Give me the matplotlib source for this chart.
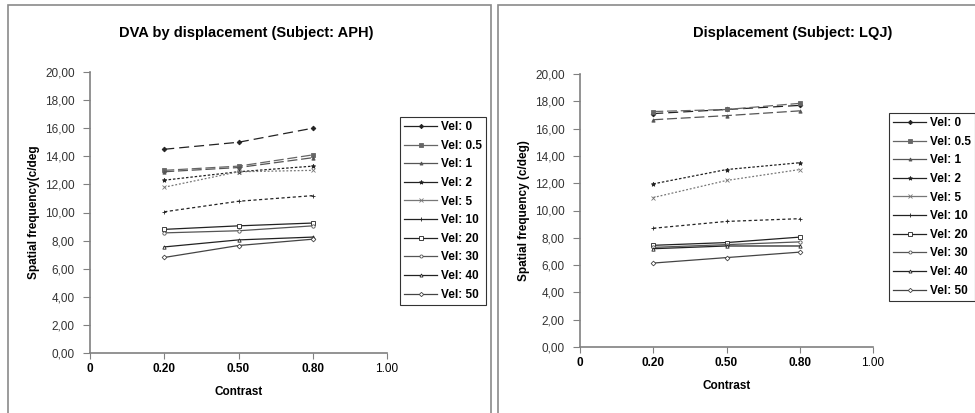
import numpy as np
import matplotlib
matplotlib.use('Agg')
import matplotlib.pyplot as plt
from matplotlib.lines import Line2D
from matplotlib.patches import Rectangle

plt.rcParams['font.family'] = ['Liberation Sans', 'DejaVu Sans']

###DATA###
categories = ['0', '0.20', '0.50', '0.80', '1.00']
contrast = ['0.20', '0.50', '0.80']
vel_labels = ['Vel: 0', 'Vel: 0.5', 'Vel: 1', 'Vel: 2', 'Vel: 5',
              'Vel: 10', 'Vel: 20', 'Vel: 30', 'Vel: 40', 'Vel: 50']

# subject APH
aph_vel0 = [14.5, 15.0, 16.0]
aph_vel05 = [13.0, 13.3, 14.1]
aph_vel1 = [12.9, 13.2, 13.9]
aph_vel2 = [12.3, 12.9, 13.3]
aph_vel5 = [11.8, 12.9, 13.0]
aph_vel10 = [10.05, 10.8, 11.2]
aph_vel20 = [8.8, 9.05, 9.25]
aph_vel30 = [8.55, 8.7, 9.05]
aph_vel40 = [7.55, 8.05, 8.25]
aph_vel50 = [6.8, 7.65, 8.1]

# subject LQJ
lqj_vel0 = [17.1, 17.4, 17.7]
lqj_vel05 = [17.25, 17.4, 17.85]
lqj_vel1 = [16.65, 16.95, 17.3]
lqj_vel2 = [11.95, 13.0, 13.5]
lqj_vel5 = [10.95, 12.2, 13.0]
lqj_vel10 = [8.7, 9.2, 9.4]
lqj_vel20 = [7.45, 7.65, 8.05]
lqj_vel30 = [7.3, 7.5, 7.7]
lqj_vel40 = [7.2, 7.4, 7.4]
lqj_vel50 = [6.15, 6.55, 6.95]

aph_series = [aph_vel0, aph_vel05, aph_vel1, aph_vel2, aph_vel5,
              aph_vel10, aph_vel20, aph_vel30, aph_vel40, aph_vel50]
lqj_series = [lqj_vel0, lqj_vel05, lqj_vel1, lqj_vel2, lqj_vel5,
              lqj_vel10, lqj_vel20, lqj_vel30, lqj_vel40, lqj_vel50]

###STYLE### (marker, fill, line colour, dashes)
styles = [
    ('D', 'k', '#222222', (8, 4)),
    ('s', 'k', '#666666', (8, 3)),
    ('^', 'k', '#555555', (8, 3)),
    ('*', 'k', '#222222', (2, 1.5)),
    ('x', 'w', '#777777', (1.5, 1.5)),
    ('+', 'k', '#222222', (2.5, 2)),
    ('s', 'w', '#222222', None),
    ('o', 'w', '#555555', None),
    ('^', 'w', '#222222', None),
    ('D', 'w', '#444444', None),
]

fig = plt.figure(figsize=(9.75, 4.13), dpi=100)

# panel frames
fig.patches.append(Rectangle((8 / 975, -0.05), 483 / 975, 1.05 - 5 / 413,
                             transform=fig.transFigure, fill=False,
                             ec='#8a8a8a', lw=1.2))
fig.patches.append(Rectangle((498 / 975, -0.05), 500 / 975, 1.05 - 5 / 413,
                             transform=fig.transFigure, fill=False,
                             ec='#8a8a8a', lw=1.2))

x_pos = [categories.index(c) for c in contrast]


def draw_panel(rect, series, title, ylabel, title_x, ylab_x, leg_xy):
    ax = fig.add_axes(rect)
    for vals, (mk, fc, col, dash) in zip(series, styles):
        ln, = ax.plot(x_pos, vals, color=col, lw=0.9, marker=mk,
                      markersize=3.2 if mk in ('*', 'x', '+') else 2.4,
                      markerfacecolor=fc if fc == 'w' else col,
                      markeredgecolor=col, markeredgewidth=0.6)
        if dash is not None:
            ln.set_dashes(dash)
    ax.set_xlim(0, 4)
    ax.set_ylim(0, 20)
    ax.set_yticks(np.arange(0, 21, 2))
    ax.set_yticklabels([('%.2f' % v).replace('.', ',') for v in np.arange(0, 21, 2)])
    ax.set_xticks(range(len(categories)))
    ax.set_xticklabels(categories)
    for i, t in enumerate(ax.get_xticklabels()):
        t.set_fontweight('bold' if i < 4 else 'normal')
    for s in ('top', 'right'):
        ax.spines[s].set_visible(False)
    for s in ('left', 'bottom'):
        ax.spines[s].set_color('#808080')
        ax.spines[s].set_linewidth(1.2)
    ax.tick_params(axis='y', length=5, color='#808080', labelsize=8.5,
                   labelcolor='#333333', pad=6)
    ax.tick_params(axis='x', length=4, color='#808080', labelsize=8.5, pad=3)
    ax.set_xlabel('Contrast', fontsize=8.5, fontweight='bold', labelpad=8)
    fig.text(title_x, 1 - 33 / 413, title, ha='center', va='center',
             fontsize=10.5, fontweight='bold')
    fig.text(ylab_x, rect[1] + rect[3] / 2, ylabel, rotation=90,
             ha='center', va='center', fontsize=8.5, fontweight='bold')

    handles = []
    for mk, fc, col, dash in styles:
        handles.append(Line2D([], [], color=col, lw=0.9, marker=mk,
                              markersize=3 if mk in ('*', 'x', '+') else 2.2,
                              markerfacecolor=fc if fc == 'w' else col,
                              markeredgecolor=col, markeredgewidth=0.6))
    leg = fig.legend(handles, vel_labels, loc='upper left',
                     bbox_to_anchor=leg_xy, bbox_transform=fig.transFigure,
                     fontsize=8.5, frameon=True, fancybox=False,
                     handlelength=2.8, handletextpad=0.3, labelspacing=0.56,
                     borderpad=0.35, borderaxespad=0)
    leg.get_frame().set_edgecolor('black')
    leg.get_frame().set_linewidth(0.8)
    for t in leg.get_texts():
        t.set_fontweight('bold')
    return ax


draw_panel([90 / 975, 1 - 353 / 413, 297 / 975, 281 / 413], aph_series,
           'DVA by displacement (Subject: APH)', 'Spatial frequency(c/deg',
           246 / 975, 34 / 975, (400 / 975, 1 - 117 / 413))
draw_panel([580 / 975, 1 - 347 / 413, 293 / 975, 273 / 413], lqj_series,
           'Displacement (Subject: LQJ)', 'Spatial frequency (c/deg)',
           793 / 975, 524 / 975, (889 / 975, 1 - 113 / 413))

fig.savefig('out.png', dpi=100)
